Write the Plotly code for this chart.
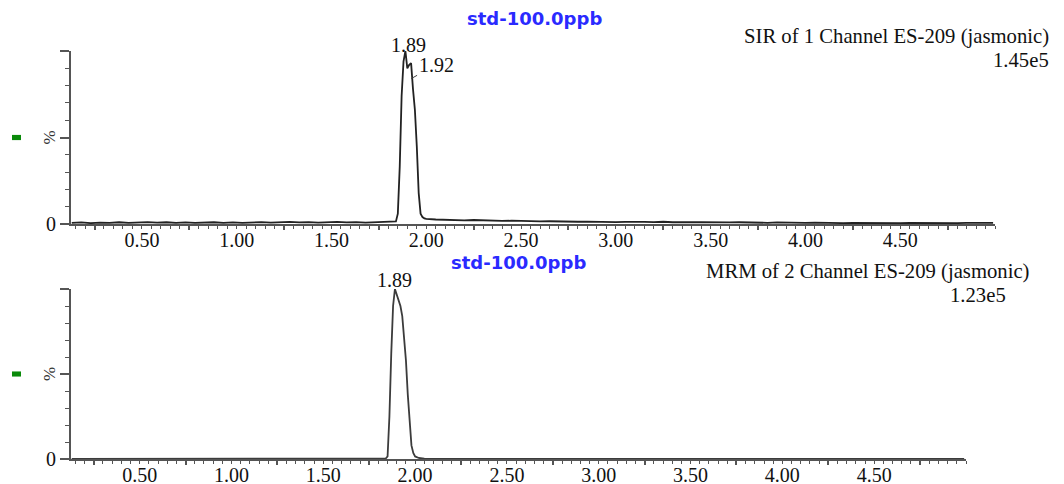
import plotly.graph_objects as go

# ---------------- data ----------------
# Top trace: SIR of 1 Channel ES-209 (jasmonic), % of 1.45e5
top_t_pre = [0.13, 0.18, 0.23, 0.28, 0.33, 0.38, 0.43, 0.48, 0.53, 0.58, 0.63, 0.68,
             0.73, 0.78, 0.83, 0.88, 0.93, 0.98, 1.03, 1.08, 1.13, 1.18, 1.23, 1.28,
             1.33, 1.38, 1.43, 1.48, 1.53, 1.58, 1.63, 1.68, 1.73, 1.78, 1.82]
top_v_pre = [0.6, 0.9, 0.5, 0.8, 0.6, 1.0, 0.7, 0.9, 1.1, 0.8, 1.0, 0.7,
             0.9, 0.6, 0.8, 1.0, 0.7, 0.9, 0.6, 0.9, 1.1, 0.8, 1.0, 1.2,
             0.9, 1.1, 0.8, 1.0, 1.2, 0.9, 1.1, 0.8, 1.0, 0.9, 1.1]
top_t_peak = [1.84, 1.85, 1.86, 1.87, 1.88, 1.89, 1.90, 1.91, 1.92, 1.93, 1.94,
              1.95, 1.96, 1.97, 1.98, 1.99, 2.00]
top_v_peak = [1.5, 6.0, 33.0, 74.0, 94.0, 100.0, 90.0, 92.0, 93.0, 78.0, 66.0,
              45.0, 18.0, 6.0, 4.0, 3.2, 2.9]
top_t_post = [2.05, 2.10, 2.15, 2.20, 2.25, 2.30, 2.35, 2.40, 2.45, 2.50, 2.55, 2.60,
              2.65, 2.70, 2.75, 2.80, 2.85, 2.90, 2.95, 3.00, 3.05, 3.10, 3.15, 3.20,
              3.25, 3.30, 3.35, 3.40, 3.45, 3.50, 3.55, 3.60, 3.65, 3.70, 3.75, 3.80,
              3.85, 3.90, 3.95, 4.00, 4.05, 4.10, 4.15, 4.20, 4.25, 4.30, 4.35, 4.40,
              4.45, 4.50, 4.55, 4.60, 4.65, 4.70, 4.75, 4.80, 4.85, 4.90, 4.95, 4.99]
top_v_post = [2.6, 2.3, 2.4, 2.1, 2.3, 2.0, 2.1, 1.8, 1.9, 1.7, 1.8, 1.5,
              1.6, 1.4, 1.5, 1.3, 1.4, 1.2, 1.3, 1.1, 1.2, 1.0, 1.2, 1.1,
              1.3, 1.0, 1.2, 1.0, 1.1, 0.9, 1.1, 0.9, 1.0, 0.8, 0.9, 0.7,
              0.9, 0.7, 0.8, 0.6, 0.8, 0.6, 0.7, 0.5, 0.7, 0.6, 0.8, 0.6,
              0.7, 0.5, 0.7, 0.6, 0.5, 0.7, 0.6, 0.5, 0.7, 0.6, 0.5, 0.6]

# Bottom trace: MRM of 2 Channel ES-209 (jasmonic), % of 1.23e5
bot_t = [0.13, 0.80, 1.50, 1.83, 1.84, 1.85, 1.86, 1.87, 1.88, 1.89, 1.90, 1.91,
         1.92, 1.93, 1.94, 1.95, 1.96, 1.97, 1.98, 1.99, 2.00, 2.02, 2.05, 2.10,
         3.00, 4.00, 4.99]
bot_v = [0.0, 0.0, 0.0, 0.0, 0.3, 1.5, 25.0, 62.0, 90.0, 100.0, 97.0, 94.0,
         90.0, 84.0, 72.0, 58.0, 38.0, 20.0, 8.0, 3.5, 1.5, 0.6, 0.2, 0.0,
         0.0, 0.0, 0.0]

x_range = [0.126, 5.0]
x_label_vals = [0.5, 1.0, 1.5, 2.0, 2.5, 3.0, 3.5, 4.0, 4.5]
x_label_text = ["0.50", "1.00", "1.50", "2.00", "2.50", "3.00", "3.50", "4.00", "4.50"]
x_mid_ticks = [0.25, 0.75, 1.25, 1.75, 2.25, 2.75, 3.25, 3.75, 4.25, 4.75]
y_tick_vals = [0, 50, 100]
y_tick_text = ["0", "", ""]

sample_name = "std-100.0ppb"
top_title = "SIR of 1 Channel ES-209 (jasmonic)"
top_scale = "1.45e5"
bot_title = "MRM of 2 Channel ES-209 (jasmonic)"
bot_scale = "1.23e5"
top_peaks = [("1.89", 1.89)]
top_peak2 = ("1.92", 1.92, 84)
bot_peaks = [("1.89", 1.89)]

# ---------------- layout helpers ----------------
W, H = 1064, 484
OFF = 8  # page body margin offsets the figure inside the window
def px(x):
    return (x - OFF) / W
def py(y):
    return 1 - (y - OFF) / H

SERIF = "Liberation Serif, Times New Roman, serif"
AXC = "#555555"
LINEC = "#222222"
TITLE_SIZE = 20.7

top_t = top_t_pre + top_t_peak + top_t_post
top_v = top_v_pre + top_v_peak + top_v_post

fig = go.Figure()
fig.add_trace(go.Scatter(x=top_t, y=top_v, mode="lines", xaxis="x", yaxis="y",
                         line=dict(color=LINEC, width=1.8), showlegend=False, hoverinfo="skip"))
fig.add_trace(go.Scatter(x=bot_t, y=bot_v, mode="lines", xaxis="x2", yaxis="y2",
                         line=dict(color="#3c3c3c", width=1.8), showlegend=False, hoverinfo="skip"))
# empty traces so the overlay tick axes are drawn
fig.add_trace(go.Scatter(x=[], y=[], xaxis="x3", yaxis="y", showlegend=False, hoverinfo="skip"))
fig.add_trace(go.Scatter(x=[], y=[], xaxis="x4", yaxis="y2", showlegend=False, hoverinfo="skip"))

def xaxis_main(dom, anchor):
    return dict(domain=dom, anchor=anchor, range=x_range, automargin=False,
                showline=True, linecolor=AXC,
                linewidth=2, showgrid=False, zeroline=False, tickmode="array",
                tickvals=x_label_vals, ticktext=x_label_text, ticks="", ticklabelstandoff=-3,
                tickfont=dict(family=SERIF, size=20, color="#111111"),
                minor=dict(tickmode="linear", tick0=0, dtick=0.05, ticks="outside",
                           ticklen=3, tickwidth=1, tickcolor=AXC))

def xaxis_overlay(over, anchor):
    return dict(overlaying=over, anchor=anchor, range=x_range, automargin=False,
                showline=False,
                showgrid=False, zeroline=False, tickmode="array", tickvals=x_mid_ticks,
                ticks="outside", ticklen=5, tickwidth=1.5, tickcolor=AXC,
                showticklabels=False, side="bottom")

def yaxis_main(dom, anchor):
    return dict(domain=dom, anchor=anchor, range=[0, 100], automargin=False,
                showline=True, linecolor=AXC,
                linewidth=2, showgrid=False, zeroline=False, tickmode="array",
                tickvals=y_tick_vals, ticktext=y_tick_text, ticks="outside", ticklen=9,
                tickwidth=1.5, tickcolor=AXC,
                tickfont=dict(family=SERIF, size=20, color="#111111"),
                minor=dict(tickmode="linear", tick0=0, dtick=10, ticks="outside",
                           ticklen=4, tickwidth=1, tickcolor=AXC))

fig.update_layout(
    width=W, height=H, margin=dict(l=0, r=0, t=0, b=0, autoexpand=False),
    paper_bgcolor="white", plot_bgcolor="white",
    xaxis=xaxis_main([px(71), px(995)], "y"),
    yaxis=yaxis_main([py(224), py(51)], "x"),
    xaxis2=xaxis_main([px(71), px(966)], "y2"),
    yaxis2=yaxis_main([py(459), py(289)], "x2"),
    xaxis3=xaxis_overlay("x", "y"),
    xaxis4=xaxis_overlay("x2", "y2"),
)

ann = []
# blue sample names
ann.append(dict(text=sample_name, xref="paper", yref="paper", x=px(534), y=py(18),
                xanchor="center", yanchor="middle", showarrow=False,
                font=dict(family="DejaVu Sans", size=18, color="#2a2aff", weight="bold")))
ann.append(dict(text=sample_name, xref="paper", yref="paper", x=px(518), y=py(262),
                xanchor="center", yanchor="middle", showarrow=False,
                font=dict(family="DejaVu Sans", size=18, color="#2a2aff", weight="bold")))
# right titles
ann.append(dict(text=top_title, xref="paper", yref="paper", x=px(1051), y=py(36),
                xanchor="right", yanchor="middle", showarrow=False,
                font=dict(family=SERIF, size=TITLE_SIZE, color="#111111")))
ann.append(dict(text=top_scale, xref="paper", yref="paper", x=px(1051), y=py(60),
                xanchor="right", yanchor="middle", showarrow=False,
                font=dict(family=SERIF, size=TITLE_SIZE, color="#111111")))
ann.append(dict(text=bot_title, xref="paper", yref="paper", x=px(1032), y=py(271),
                xanchor="right", yanchor="middle", showarrow=False,
                font=dict(family=SERIF, size=TITLE_SIZE, color="#111111")))
ann.append(dict(text=bot_scale, xref="paper", yref="paper", x=px(1008), y=py(295),
                xanchor="right", yanchor="middle", showarrow=False,
                font=dict(family=SERIF, size=TITLE_SIZE, color="#111111")))
# % labels
for yr in ["y", "y2"]:
    ann.append(dict(text="%", xref="paper", yref=yr, x=px(49), y=50, textangle=-90,
                    xanchor="center", yanchor="middle", showarrow=False,
                    font=dict(family=SERIF, size=17, color="#333333")))
# peak labels
for lab, xv in top_peaks:
    ann.append(dict(text=lab, xref="x", yref="y", x=xv, y=100, xanchor="center",
                    yanchor="middle", xshift=3, yshift=6, showarrow=False,
                    font=dict(family=SERIF, size=20, color="#111111")))
ann.append(dict(text=top_peak2[0], xref="x", yref="y", x=top_peak2[1], y=top_peak2[2],
                ax=25, ay=-14, showarrow=True, arrowhead=0, arrowwidth=1,
                arrowcolor="#444444", standoff=0,
                font=dict(family=SERIF, size=20, color="#111111")))
for lab, xv in bot_peaks:
    ann.append(dict(text=lab, xref="x2", yref="y2", x=xv, y=100, xanchor="center",
                    yanchor="middle", yshift=9, showarrow=False,
                    font=dict(family=SERIF, size=20, color="#111111")))
fig.update_layout(annotations=ann)

# green markers at the left
shapes = []
for yr in ["y", "y2"]:
    shapes.append(dict(type="rect", xref="paper", yref=yr, x0=px(12), x1=px(21),
                       y0=48.5, y1=51.5, fillcolor="#0a8a0a", line=dict(width=0)))
fig.update_layout(shapes=shapes)

fig.write_html("out.html")
